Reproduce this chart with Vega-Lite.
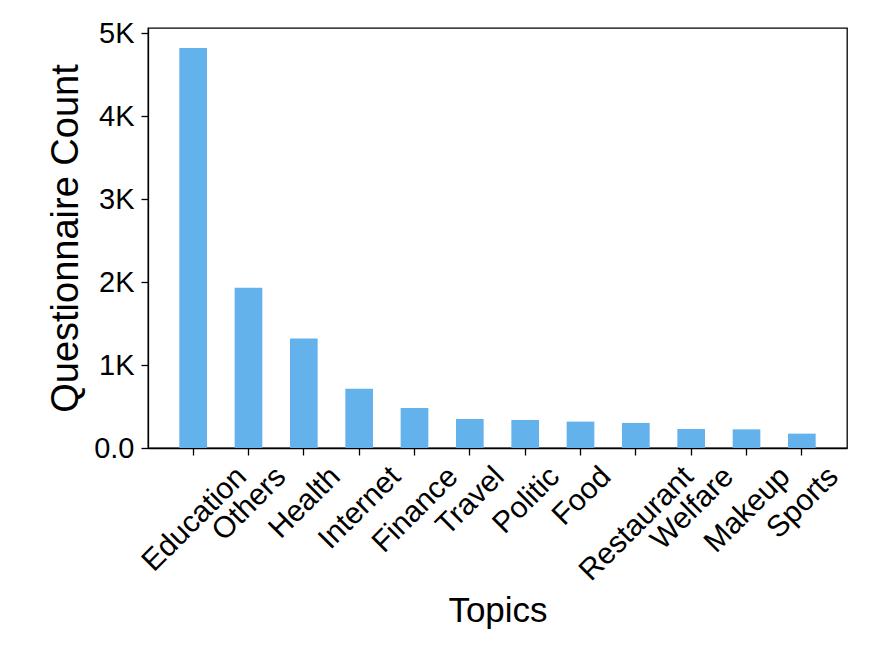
{
  "$schema": "https://vega.github.io/schema/vega-lite/v6.json",
  "autosize": "none",
  "padding": {"left": 148, "top": 28, "right": 24, "bottom": 206},
  "width": 699,
  "height": 420,
  "background": "white",
  "config": {
    "font": "Liberation Sans",
    "view": {"stroke": "black", "strokeWidth": 1.3},
    "axis": {
      "grid": false,
      "domainColor": "black",
      "domainWidth": 1.3,
      "tickColor": "black",
      "tickWidth": 1.3,
      "tickSize": 7,
      "labelColor": "black",
      "labelFont": "Liberation Sans",
      "labelFontSize": 29,
      "titleFont": "Liberation Sans",
      "titleFontWeight": "normal",
      "titleColor": "black",
      "labelOverlap": false,
      "labelFlush": false,
      "labelBound": false,
      "labelLimit": 0
    }
  },
  "data": {
    "values": [
      {"topic": "Education", "count": 4820},
      {"topic": "Others", "count": 1930},
      {"topic": "Health", "count": 1320},
      {"topic": "Internet", "count": 713},
      {"topic": "Finance", "count": 483},
      {"topic": "Travel", "count": 350},
      {"topic": "Politic", "count": 338},
      {"topic": "Food", "count": 318},
      {"topic": "Restaurant", "count": 302},
      {"topic": "Welfare", "count": 229},
      {"topic": "Makeup", "count": 225},
      {"topic": "Sports", "count": 173}
    ]
  },
  "mark": {"type": "bar", "color": "#64B2EC"},
  "encoding": {
    "x": {
      "field": "topic",
      "type": "nominal",
      "sort": null,
      "scale": {"paddingInner": 0.5, "paddingOuter": 0.566},
      "axis": {
        "title": "Topics",
        "titleFontSize": 35,
        "labelFontSize": 30,
        "labelAngle": -45,
        "labelAlign": "right",
        "labelBaseline": "top",
        "labelPadding": 6,
        "labelOffset": {
          "condition": [
            {"test": "datum.label == 'Education'", "value": 38},
            {"test": "datum.label == 'Others'", "value": 22},
            {"test": "datum.label == 'Health'", "value": 21},
            {"test": "datum.label == 'Internet'", "value": 26},
            {"test": "datum.label == 'Finance'", "value": 28},
            {"test": "datum.label == 'Travel'", "value": 19},
            {"test": "datum.label == 'Politic'", "value": 19},
            {"test": "datum.label == 'Food'", "value": 15},
            {"test": "datum.label == 'Restaurant'", "value": 42},
            {"test": "datum.label == 'Welfare'", "value": 27},
            {"test": "datum.label == 'Makeup'", "value": 28}
          ],
          "value": 21
        },
        "titlePadding": 8
      }
    },
    "y": {
      "field": "count",
      "type": "quantitative",
      "scale": {"domain": [0, 5061], "nice": false, "zero": true},
      "axis": {
        "title": "Questionnaire Count",
        "titleFontSize": 38,
        "values": [0, 1000, 2000, 3000, 4000, 5000],
        "labelExpr": "datum.value == 0 ? '0.0' : (datum.value / 1000) + 'K'",
        "labelPadding": 7,
        "titlePadding": 8
      }
    }
  }
}
